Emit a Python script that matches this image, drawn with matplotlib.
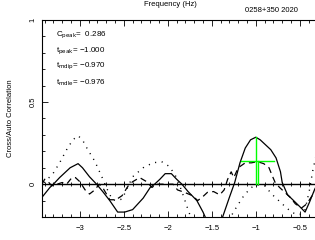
import numpy as np
import matplotlib
matplotlib.use("Agg")
import matplotlib.pyplot as plt
from matplotlib.ticker import MultipleLocator, FixedFormatter, FixedLocator

plt.rcParams['font.family'] = ['Liberation Sans', 'DejaVu Sans']

# data
solid_x = [-3.43, -3.34, -3.30, -3.23, -3.11, -3.02, -2.97, -2.89, -2.81, -2.74,
           -2.66, -2.57, -2.49, -2.40, -2.28, -2.20, -2.15, -2.09, -2.03, -1.96,
           -1.90, -1.84, -1.77, -1.67, -1.60, -1.55, -1.47, -1.39, -1.30, -1.24,
           -1.18, -1.12, -1.06, -1.00, -0.95, -0.89, -0.83, -0.77, -0.72, -0.70,
           -0.64, -0.58, -0.50, -0.44, -0.39, -0.33, -0.27]
solid_y = [-0.08, -0.02, 0.00, 0.04, 0.10, 0.125, 0.10, 0.045, 0.00, -0.045,
           -0.10, -0.17, -0.17, -0.155, -0.085, -0.02, 0.00, 0.03, 0.064, 0.064,
           0.03, 0.00, -0.045, -0.10, -0.17, -0.23, -0.25, -0.22, -0.08, 0.01,
           0.13, 0.22, 0.27, 0.286, 0.27, 0.24, 0.21, 0.16, 0.076, 0.01,
           -0.064, -0.095, -0.137, -0.17, -0.11, -0.03, 0.03]

dot_x = [-3.43, -3.40, -3.31, -3.23, -3.15, -3.08, -3.02, -2.97, -2.91, -2.83,
         -2.75, -2.69, -2.63, -2.57, -2.52, -2.47, -2.40, -2.28, -2.17, -2.07,
         -1.98, -1.90, -1.84, -1.78, -1.72, -1.32, -1.22, -1.13, -1.05, -0.98,
         -0.90, -0.81, -0.73, -0.65, -0.58, -0.50, -0.44, -0.39, -0.35, -0.30]
dot_y = [-0.03, 0.015, 0.06, 0.13, 0.21, 0.27, 0.295, 0.27, 0.21, 0.14,
         0.045, -0.03, -0.095, -0.10, -0.09, -0.035, 0.045, 0.10, 0.13, 0.137,
         0.107, 0.04, -0.045, -0.14, -0.23, -0.23, -0.14, -0.065, -0.02, -0.005,
         -0.01, -0.065, -0.105, -0.145, -0.175, -0.185, -0.155, -0.035, 0.09, 0.21]

dash_x = [-3.43, -3.40, -3.36, -3.32, -3.26, -3.20, -3.15, -3.09, -3.05, -3.00,
          -2.94, -2.89, -2.83, -2.78, -2.73, -2.66, -2.59, -2.52, -2.45, -2.40,
          -2.32, -2.24, -2.18, -2.13, -2.03, -1.94, -1.89, -1.81, -1.72, -1.66,
          -1.60, -1.55, -1.48, -1.41, -1.36, -1.32, -1.28, -1.25, -1.20, -1.12,
          -1.05, -0.98, -0.91, -0.85, -0.82, -0.78, -0.73, -0.67, -0.61, -0.55,
          -0.48, -0.42, -0.36, -0.30]
dash_y = [0.00, 0.03, 0.015, -0.01, 0.00, 0.01, 0.00, 0.04, 0.04, 0.015,
          -0.035, -0.06, -0.035, 0.00, -0.03, -0.095, -0.095, -0.07, -0.01, 0.015,
          0.04, 0.015, -0.02, 0.00, 0.00, 0.00, -0.035, -0.05, -0.07, -0.10,
          -0.075, -0.05, -0.045, -0.065, -0.035, 0.03, 0.075, 0.04, 0.10, 0.13,
          0.13, 0.137, 0.125, 0.10, 0.06, 0.01, -0.02, -0.05, -0.08, -0.12,
          -0.145, -0.12, -0.07, -0.035]

c_peak = 0.286
t_peak = -1.000
t_mdip = -0.970
t_mdle = -0.976
half_lo, half_hi = -1.17, -0.79

MINUS = '\u2212'


def fmt(v):
    s = '%.3f' % abs(v)
    return (MINUS + s) if v < 0 else s


fig = plt.figure(figsize=(3.15, 2.40), dpi=100)
# axes run past the right edge, as in the cropped reference
ax = fig.add_axes([42/315, 23/240, 293/315, 197/240])
ax.set_xlim(-3.43, -0.10)
ax.set_ylim(-0.2, 1.0)

ax.plot(solid_x, solid_y, color='black', lw=0.9)
ax.plot(dash_x, dash_y, color='black', lw=0.9, linestyle=(0, (5, 3.5)))
ax.plot(dot_x, dot_y, color='black', lw=1.0, linestyle=(0, (0.8, 4)))

# zero line with its own little ticks
ax.axhline(0, color='black', lw=1.0)
zt = np.arange(-3.4, -0.05, 0.1)
ax.plot(zt, np.zeros_like(zt), linestyle='none', marker='|', color='black', ms=3, mew=0.6)
zt5 = np.arange(-3.0, -0.05, 0.5)
ax.plot(zt5, np.zeros_like(zt5), linestyle='none', marker='|', color='black', ms=5, mew=0.6)

# green cross
ax.plot([t_peak, t_peak], [0, c_peak], color='#00ff00', lw=1.0)
ax.plot([t_mdip, t_mdip], [0, c_peak/2], color='#00ff00', lw=1.0)
ax.plot([half_lo, half_hi], [c_peak/2, c_peak/2], color='#00ff00', lw=1.0)

# ticks
ax.xaxis.set_major_locator(FixedLocator([-3, -2.5, -2, -1.5, -1, -0.5]))
ax.xaxis.set_major_formatter(FixedFormatter([MINUS + '3', MINUS + '2.5', MINUS + '2',
                                             MINUS + '1.5', MINUS + '1', MINUS + '0.5']))
ax.xaxis.set_minor_locator(MultipleLocator(0.1))
ax.yaxis.set_major_locator(FixedLocator([0, 0.5, 1.0]))
ax.yaxis.set_major_formatter(FixedFormatter(['0', '0.5', '1']))
ax.yaxis.set_minor_locator(MultipleLocator(0.1))
ax.tick_params(which='both', direction='in', top=True, right=False, width=0.6,
               labelsize=5.5)
ax.tick_params(axis='x', which='both', pad=6)
ax.tick_params(axis='y', which='both', pad=4)
ax.tick_params(which='major', length=4)
ax.tick_params(which='minor', length=2)
for lab in ax.get_yticklabels():
    lab.set_rotation(90)
    lab.set_va('center')
for sp in ax.spines.values():
    sp.set_linewidth(0.8)

ax.set_ylabel('Cross/Auto Correlation', fontsize=5.5, labelpad=11)

# text block
fs = 5.8
ax.text(-3.27, 0.905, r'C$_{\mathrm{peak}}$=  ' + fmt(c_peak), fontsize=fs, va='center')
ax.text(-3.27, 0.81, r't$_{\mathrm{peak}}$= ' + fmt(t_peak), fontsize=fs, va='center')
ax.text(-3.27, 0.715, r't$_{\mathrm{mdip}}$= ' + fmt(t_mdip), fontsize=fs, va='center')
ax.text(-3.27, 0.62, r't$_{\mathrm{mdle}}$= ' + fmt(t_mdle), fontsize=fs, va='center')

fig.text(170/315, 1 - 5/240, 'Frequency (Hz)', fontsize=5.5, ha='center', va='center')
fig.text(245/315, 1 - 11/240, '0258+350 2020', fontsize=5.5, ha='left', va='center')

fig.savefig('out.png', dpi=100)
